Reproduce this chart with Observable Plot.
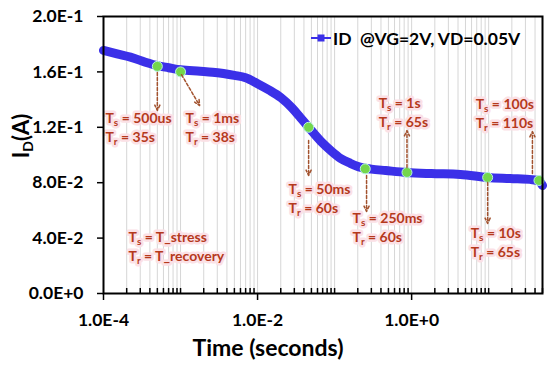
<!DOCTYPE html>
<html><head><meta charset="utf-8">
<script src="https://cdn.jsdelivr.net/npm/d3@7"></script>
<script src="https://cdn.jsdelivr.net/npm/@observablehq/plot@0.6"></script>
<style>
body{margin:0;background:#fff;}
#chart{position:relative;width:550px;height:369px;font-family:Lato,sans-serif;}
#legend{position:absolute;left:311px;top:27px;height:22px;font:bold 17.5px Lato,sans-serif;display:flex;align-items:center;white-space:pre;color:#000;}
#legend svg{margin-right:2px;}
</style></head><body><div id="chart"><div id="legend"><svg width="20" height="10"><line x1="0" y1="5" x2="20" y2="5" stroke="#3b30e8" stroke-width="2"/><rect x="6.5" y="1.5" width="7" height="7" fill="#3b30e8"/></svg><span>ID  @VG=2V, VD=0.05V</span></div></div>
<script>
// Drain current vs time
const time = [1e-4, 1.5e-4, 2.24e-4, 3.5e-4, 5e-4, 7e-4, 1e-3, 1.8e-3, 2.6e-3, 3.6e-3, 5e-3, 7e-3, 1e-2, 1.4e-2, 2e-2, 2.8e-2, 3.6e-2, 4.6e-2, 6.6e-2, 0.09, 0.12, 0.16, 0.22, 0.3, 0.46, 0.86, 1.8, 4.3, 9.7, 19, 37, 45, 50];
const id   = [0.1755, 0.173, 0.1707, 0.167, 0.1645, 0.163, 0.1615, 0.1605, 0.1598, 0.1588, 0.1575, 0.1558, 0.1515, 0.147, 0.1415, 0.134, 0.127, 0.120, 0.110, 0.103, 0.0975, 0.094, 0.091, 0.0898, 0.0888, 0.0874, 0.0866, 0.086, 0.0838, 0.083, 0.0822, 0.0813, 0.078];

// highlighted measurement points
const dotTime = [5e-4, 1e-3, 4.6e-2, 0.25, 0.87, 9.7, 45];
const dotId   = [0.164, 0.160, 0.120, 0.090, 0.0874, 0.0838, 0.0816];

// annotations
const stressLabels   = ["500us", "1ms", "50ms", "250ms", "1s", "10s", "100s", "T_stress"];
const recoveryLabels = ["35s", "38s", "60s", "60s", "65s", "65s", "110s", "T_recovery"];
const labelTime = [1.06e-4, 1.16e-3, 2.53e-2, 0.171, 0.373, 5.84, 6.78, 2.11e-4];
const labelId   = [0.1264, 0.1264, 0.0751, 0.0542, 0.1372, 0.0433, 0.1365, 0.0404];

// dashed arrows (start -> end)
const arrowTime1 = [5e-4, 1.03e-3, 4.6e-2, 0.26, 0.87, 9.7, 37];
const arrowId1   = [0.1596, 0.158, 0.1105, 0.0852, 0.091, 0.0801, 0.0866];
const arrowTime2 = [5e-4, 1.77e-3, 4.6e-2, 0.26, 0.87, 9.7, 37];
const arrowId2   = [0.1321, 0.1357, 0.0852, 0.0592, 0.1177, 0.0505, 0.117];

// axis ticks
const xTicks = [1e-4, 1e-2, 1];
const yTicks = [0, 0.04, 0.08, 0.12, 0.16, 0.2];
const xMinorTicks = [];
for (let e = -4; e <= 1; e++) for (let k = 1; k <= 9; k++) {
  const v = k * Math.pow(10, e);
  if (v > 1e-4 && v <= 50 && !(k === 1 && (e === -2 || e === 0))) xMinorTicks.push(v);
}
const gridTicks = [];
for (let e = -4; e <= 1; e++) for (let k = 1; k <= 9; k++) {
  const v = k * Math.pow(10, e);
  if (v > 1e-4 && v < 50) gridTicks.push(v);
}

const fmt = d => d.toExponential(1).toUpperCase();
const series = time.map((t, i) => ({t, v: id[i]}));
const dots = dotTime.map((t, i) => ({t, v: dotId[i]}));
const labels = stressLabels.map((s, i) => ({s, r: recoveryLabels[i], t: labelTime[i], v: labelId[i]}));
const arrows = arrowTime1.map((t, i) => ({t1: t, v1: arrowId1[i], t2: arrowTime2[i], v2: arrowId2[i]}));

const textStyle = {textAnchor: "start", fontSize: 14, fontWeight: "bold", fill: "#b5391c", stroke: "#fbe1e6", strokeWidth: 5};

const plot = Plot.plot({
  width: 550, height: 369,
  marginLeft: 103, marginRight: 8, marginTop: 16, marginBottom: 76,
  style: {fontFamily: "Lato, sans-serif", background: "white", overflow: "visible"},
  x: {type: "log", domain: [1e-4, 50]},
  y: {domain: [0, 0.2]},
  marks: [
    Plot.gridX(gridTicks, {stroke: "#d6d6d6", strokeOpacity: 1, strokeWidth: 1}),
    Plot.ruleX(xMinorTicks, {y1: 0, y2: 0.0036, stroke: "black", strokeWidth: 1.5}),
    Plot.axisX(xTicks, {tickFormat: fmt, tickSize: 7, tickPadding: 13, fontSize: 17.5, fontWeight: "bold", label: null, strokeWidth: 1.5, fill: "black"}),
    Plot.axisY(yTicks, {tickFormat: fmt, tickSize: 6, tickPadding: 14, fontSize: 17.5, fontWeight: "bold", label: null, strokeWidth: 1.5, fill: "black"}),
    Plot.line(series, {x: "t", y: "v", stroke: "#3b30e8", strokeWidth: 9, curve: "monotone-x"}),
    Plot.dot(dots, {x: "t", y: "v", r: 5, fill: "#74d64c", stroke: "#b5f0e4", strokeWidth: 1}),
    Plot.arrow(arrows, {x1: "t1", y1: "v1", x2: "t2", y2: "v2", stroke: "#a3532f", strokeWidth: 1.5, strokeDasharray: "3,2", headLength: 6, headAngle: 50}),
    Plot.text(labels, {x: "t", y: "v", text: d => "Ts = " + d.s, ...textStyle}),
    Plot.text(labels, {x: "t", y: "v", text: d => "Tr = " + d.r, dy: 19, ...textStyle}),
    Plot.frame({stroke: "black", strokeWidth: 2})
  ]
});

const svg = d3.select(plot);
// subscripts on Ts / Tr
svg.selectAll("text").each(function() {
  if (this.children.length) return;
  const m = this.textContent.match(/^T([sr]) = (.*)$/);
  if (!m) return;
  this.textContent = "T";
  d3.select(this).append("tspan").attr("font-size", "10px").attr("dy", 3).text(m[1]);
  d3.select(this).append("tspan").attr("dy", -3).text(" = " + m[2]);
});
// axis titles
const yt = svg.append("text").attr("transform", "translate(21,136) rotate(-90)")
  .attr("text-anchor", "middle").attr("font-size", 22).attr("font-weight", "bold").attr("dy", "0.35em").attr("fill", "black");
yt.append("tspan").text("I");
yt.append("tspan").attr("font-size", 14).attr("dy", 4).text("D");
yt.append("tspan").attr("dy", -4).text("(A)");
svg.append("text").attr("x", 268).attr("y", 348).attr("text-anchor", "middle").attr("dy", "0.35em")
  .attr("font-size", 23).attr("font-weight", "bold").attr("fill", "black").text("Time (seconds)");

document.getElementById("chart").prepend(plot);
</script>
</body></html>
